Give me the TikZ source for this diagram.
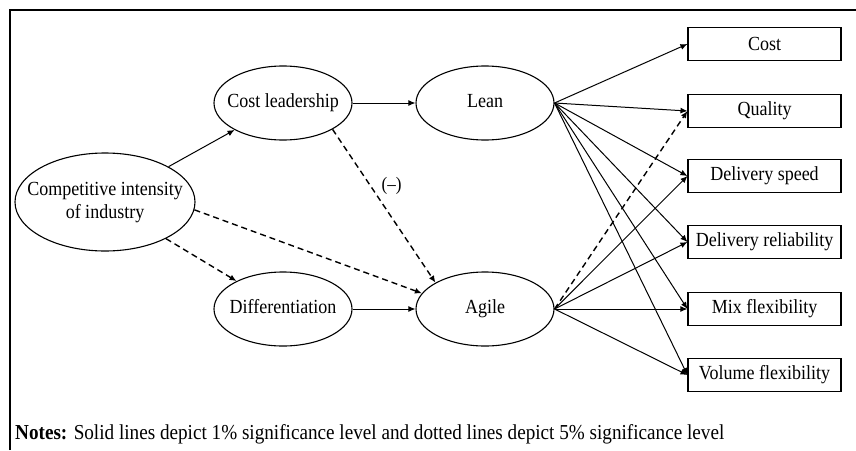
\documentclass[tikz,border=0pt]{standalone}
\usepackage{fontspec}
\setmainfont{Liberation Serif}[FakeStretch=0.9]
\usetikzlibrary{arrows.meta,shapes.geometric}

% zero-width text so each ellipse keeps its set size
\newcommand{\nowidth}[1]{\makebox[0pt]{\begin{tabular}{@{}c@{}}#1\end{tabular}}}

\tikzset{
  construct/.style={ellipse, draw, line width=1.1pt, inner sep=0pt,
    minimum width=138pt, minimum height=74pt,
    font=\fontsize{20}{23}\selectfont},
  measure/.style={rectangle, draw, line width=1.1pt, inner sep=0pt,
    minimum width=153pt, minimum height=33pt,
    font=\fontsize{20}{22}\selectfont},
  path1/.style={line width=1pt, -{Latex[length=7pt,width=6pt]}},
  path5/.style={path1, dashed, line width=1.4pt, dash pattern=on 6pt off 4pt},
}

\begin{document}
\begin{tikzpicture}[x=1pt, y=-1pt]
  \useasboundingbox (0,0) rectangle (856,450);
  \fill[white] (0,0) rectangle (856,450);

  % open frame: left and top edges
  \draw[line width=1.6pt] (10,450) -- (10,10) -- (856,10);

  % latent constructs
  \node[construct, minimum width=180pt, minimum height=98pt] (ci) at (105,202)
    {\nowidth{Competitive intensity\\of industry}};
  \node[construct] (cl)  at (283,103) {\nowidth{Cost leadership}};
  \node[construct] (dif) at (283,309) {\nowidth{Differentiation}};
  \node[construct] (lean)  at (485,103) {\nowidth{Lean}};
  \node[construct] (agile) at (485,309) {\nowidth{Agile}};

  % performance measures
  \node[measure] (cost) at (764.5,44)  {Cost};
  \node[measure] (qual) at (764.5,111) {Quality};
  \node[measure] (dsp)  at (764.5,176) {Delivery speed};
  \node[measure] (drel) at (764.5,242) {Delivery reliability};
  \node[measure] (mix)  at (764.5,309) {Mix flexibility};
  \node[measure] (vol)  at (764.5,375) {Volume flexibility};

  % strategy paths
  \draw[path1] (ci) -- (cl);
  \draw[path5] (ci) -- (dif);
  \draw[path5] (ci.-5) -- (agile.166);
  \draw[path1] (cl) -- (lean);
  \draw[path1] (dif) -- (agile);
  \draw[path5] (cl.-28) -- node[pos=0.37, right=7pt, font=\fontsize{19}{20}\selectfont] (neg) {(--)} (agile.152);

  % lean to performance
  \foreach \t in {cost,qual,dsp,drel,mix,vol}
    \draw[path1] (lean.east) -- (\t.west);

  % agile to performance
  \draw[path5] (agile.east) -- (qual.west);
  \foreach \t in {dsp,drel,mix,vol}
    \draw[path1] (agile.east) -- (\t.west);

  % legend note
  \node[anchor=west, inner sep=0pt, font=\fontsize{21.3}{24}\selectfont] (note) at (15,434)
    {\textbf{Notes:} Solid lines depict 1\% significance level and dotted lines depict 5\% significance level};
\end{tikzpicture}
\end{document}
